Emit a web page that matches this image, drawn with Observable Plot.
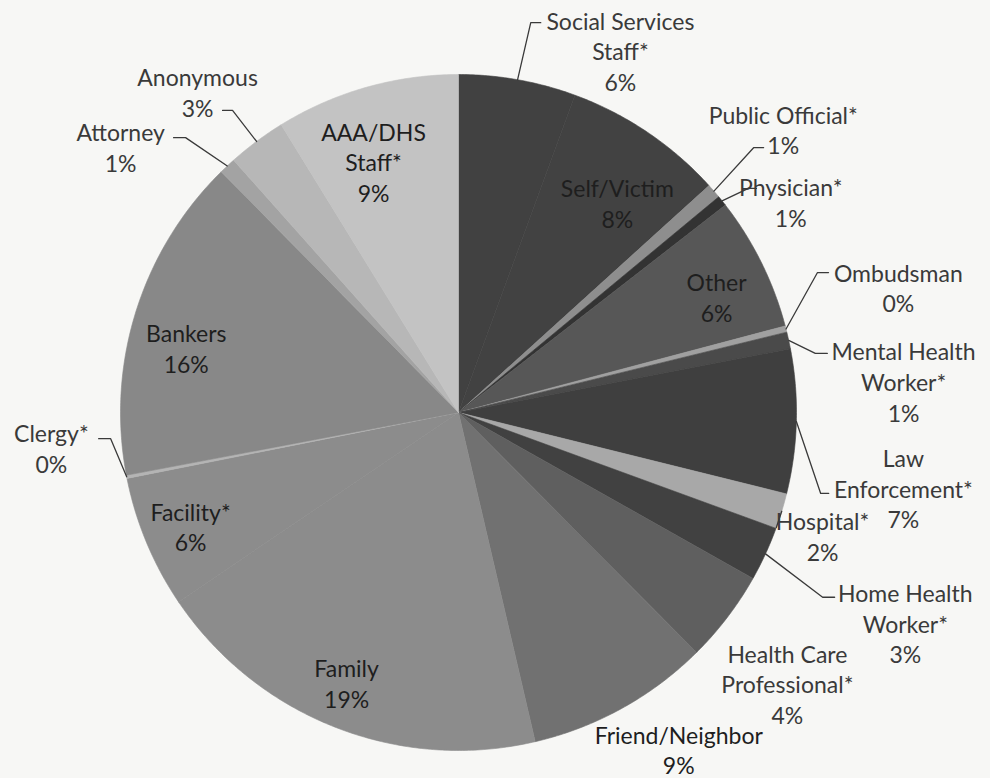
<!DOCTYPE html>
<html><head><meta charset="utf-8">
<script src="https://cdn.jsdelivr.net/npm/d3@7"></script>
<script src="https://cdn.jsdelivr.net/npm/@observablehq/plot@0.6"></script>
<style>
html,body{margin:0;padding:0;background:#f7f7f5;}
#chart{width:990px;height:778px;overflow:hidden;}
</style></head><body><div id="chart"></div>
<script>
// Slices, clockwise from 12 o'clock
const categories = ["Social Services Staff*","Self/Victim","Public Official*","Physician*","Other","Ombudsman","Mental Health Worker*","Law Enforcement*","Hospital*","Home Health Worker*","Health Care Professional*","Friend/Neighbor","Family","Facility*","Clergy*","Bankers","Attorney","Anonymous","AAA/DHS Staff*"];
// estimated shares (percent)
const shares = [5.6, 7.7, 0.7, 0.5, 6.4, 0.3, 0.8, 6.9, 1.7, 2.6, 4.4, 8.8, 19.2, 6.35, 0.15, 15.6, 0.8, 2.8, 8.8];
// printed percentage labels
const shownPct = ["6%","8%","1%","1%","6%","0%","1%","7%","2%","3%","4%","9%","19%","6%","0%","16%","1%","3%","9%"];
// label text as printed (line breaks)
const labelNames = ["Social Services\nStaff*","Self/Victim","Public Official*","Physician*","Other","Ombudsman","Mental Health\nWorker*","Law\nEnforcement*","Hospital*","Home Health\nWorker*","Health Care\nProfessional*","Friend/Neighbor","Family","Facility*","Clergy*","Bankers","Attorney","Anonymous","AAA/DHS\nStaff*"];
const labelInside = [false,true,false,false,true,false,false,false,false,false,false,false,true,true,false,true,false,false,true];

// styles
const sliceColors = ["#414141","#424242","#8e8e8e","#333333","#575757","#a0a0a0","#4a4a4a","#3f3f3f","#a8a8a8","#414141","#5f5f5f","#717171","#8c8c8c","#8c8c8c","#b4b4b4","#888888","#a3a3a3","#b7b7b7","#c3c3c3"];
// label layout: [angle (deg, clockwise from top), radius as fraction of pie radius]
const labelPolar = [[24.1,1.173],[37.1,0.779],[48.9,1.275],[57.6,1.164],[65.8,0.837],[74.1,1.353],[86.0,1.32],[99.6,1.335],[108.7,1.137],[115.2,1.461],[129.5,1.261],[146.8,1.19],[202.5,0.865],[247.0,0.861],[265.1,1.209],[283.4,0.828],[308.2,1.272],[320.9,1.224],[341.3,0.784]];
// leader lines: [elbow angle, elbow radius fraction, horizontal stub px] or null
const leaderElbow = [[10.5,1.173,10],null,[48.1,1.173,10],[52.3,1.084,8],null,[68.7,1.14,11],[80.6,1.07,12],[102.6,1.098,8],[109.9,1.0,0],[116.9,1.208,12],null,null,null,null,[265.7,1.032,-12],null,[315.2,1.146,-12],[323.2,1.116,-10],null];

const W = 990, H = 778, CX = 458, CY = 412, R = 338;
const total = d3.sum(shares);
const rad = d => d * Math.PI / 180;
const polar = (a, r) => [r * Math.sin(rad(a)), r * Math.cos(rad(a))];

let acc = 0;
const slices = categories.map((c, i) => {
  const a0 = acc / total * 360; acc += shares[i]; const a1 = acc / total * 360;
  return {name: c, a0, a1, mid: (a0 + a1) / 2, color: sliceColors[i]};
});

const slicePts = slices.flatMap(s => {
  const pts = [{name: s.name, color: s.color, x: 0, y: 0}];
  const n = Math.max(2, Math.ceil((s.a1 - s.a0) / 0.5));
  for (let k = 0; k <= n; k++) {
    const [x, y] = polar(s.a0 + (s.a1 - s.a0) * k / n, 1);
    pts.push({name: s.name, color: s.color, x, y});
  }
  pts.push({name: s.name, color: s.color, x: 0, y: 0});
  return pts;
});

const leaderPts = [];
slices.forEach((s, i) => {
  const e = leaderElbow[i]; if (!e) return;
  const [x0, y0] = polar(s.mid, 1);
  const [x1, y1] = polar(e[0], e[1]);
  leaderPts.push({name: s.name, x: x0, y: y0});
  leaderPts.push({name: s.name, x: x1, y: y1});
  if (e[2]) leaderPts.push({name: s.name, x: x1 + e[2] / R, y: y1});
});

const labels = slices.map((s, i) => {
  const [x, y] = polar(labelPolar[i][0], labelPolar[i][1]);
  return {x, y, text: labelNames[i] + "\n" + shownPct[i], inside: labelInside[i], name: s.name};
});

const chart = Plot.plot({
  width: W, height: H,
  margin: 0,
  x: {domain: [-CX / R, (W - CX) / R], axis: null},
  y: {domain: [-(H - CY) / R, CY / R], axis: null},
  color: {type: "identity"},
  style: {background: "#f7f7f5", fontFamily: "Lato, 'Open Sans', sans-serif"},
  marks: [
    Plot.line(slicePts, {x: "x", y: "y", z: "name", fill: "color", stroke: "color", strokeWidth: 0.6, curve: "linear"}),
    Plot.line(leaderPts, {x: "x", y: "y", z: "name", stroke: "#3a3a3a", strokeWidth: 1.3}),
    Plot.text(labels, {x: "x", y: "y", text: "text", fontSize: 23, lineHeight: 1.34,
      fill: d => d.inside ? "#1e1e1e" : (d.name === "Friend/Neighbor" ? "#1e1e1e" : "#3a3a3a"),
      fontFamily: "Lato"})
  ]
});
document.getElementById("chart").append(chart);
</script>
</body></html>
